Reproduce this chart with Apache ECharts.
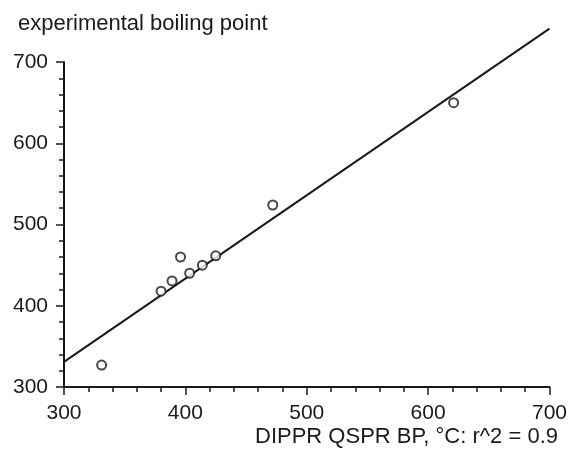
<!DOCTYPE html>
<html>
<head>
<meta charset="utf-8">
<script src="https://cdn.jsdelivr.net/npm/echarts@6/dist/echarts.min.js"></script>
<style>
  html, body { margin: 0; padding: 0; background: #fff; }
  #main { width: 570px; height: 453px; }
</style>
</head>
<body>
<div id="main"></div>
<script>
// predicted (QSPR) vs experimental boiling point
var predicted = [331, 380, 389, 396, 403.5, 414, 425, 472, 621];
var experimental = [327, 418, 430.5, 460, 440, 450, 461.5, 524, 650];
// fitted line end points
var fitX = [300, 700];
var fitY = [331, 741];

var points = predicted.map(function (x, i) { return [x, experimental[i]]; });
var fitLine = fitX.map(function (x, i) { return [x, fitY[i]]; });

var ink = '#1a1a1a';
var font = 'Liberation Sans, Arial, sans-serif';

var myChart = echarts.init(document.getElementById('main'));
var option = {
    animation: false,
    backgroundColor: '#fff',
    title: [
        {
            text: 'experimental boiling point',
            left: 18,
            top: 13,
            padding: 0,
            textStyle: { fontSize: 22, fontWeight: 'normal', color: ink, fontFamily: font }
        },
        {
            text: 'DIPPR QSPR BP, °C: r^2 = 0.9',
            right: 12,
            top: 426,
            padding: 0,
            textStyle: { fontSize: 22, fontWeight: 'normal', color: ink, fontFamily: font }
        }
    ],
    grid: { left: 64, right: 19, top: 62, bottom: 66 },
    xAxis: {
        type: 'value',
        min: 300,
        max: 700,
        interval: 100,
        axisLine: { lineStyle: { color: ink, width: 2 } },
        axisTick: { show: true, length: 8, lineStyle: { color: ink, width: 1.5 } },
        minorTick: { show: true, splitNumber: 5, length: 5, lineStyle: { color: ink, width: 1.5 } },
        axisLabel: { margin: 16, fontSize: 21, color: ink, fontFamily: font },
        splitLine: { show: false }
    },
    yAxis: {
        type: 'value',
        min: 300,
        max: 700,
        interval: 100,
        axisLine: { show: true, lineStyle: { color: ink, width: 2 } },
        axisTick: { show: true, length: 8, lineStyle: { color: ink, width: 1.5 } },
        minorTick: { show: true, splitNumber: 5, length: 5, lineStyle: { color: ink, width: 1.5 } },
        axisLabel: { margin: 16, fontSize: 21, color: ink, fontFamily: font },
        splitLine: { show: false }
    },
    series: [
        {
            name: 'fit',
            type: 'line',
            data: fitLine,
            showSymbol: false,
            clip: false,
            lineStyle: { color: ink, width: 2 },
            z: 2
        },
        {
            name: 'compounds',
            type: 'scatter',
            data: points,
            symbol: 'emptyCircle',
            symbolSize: 9,
            itemStyle: { color: ink, borderWidth: 2 },
            z: 3
        }
    ]
};
myChart.setOption(option);
</script>
</body>
</html>
